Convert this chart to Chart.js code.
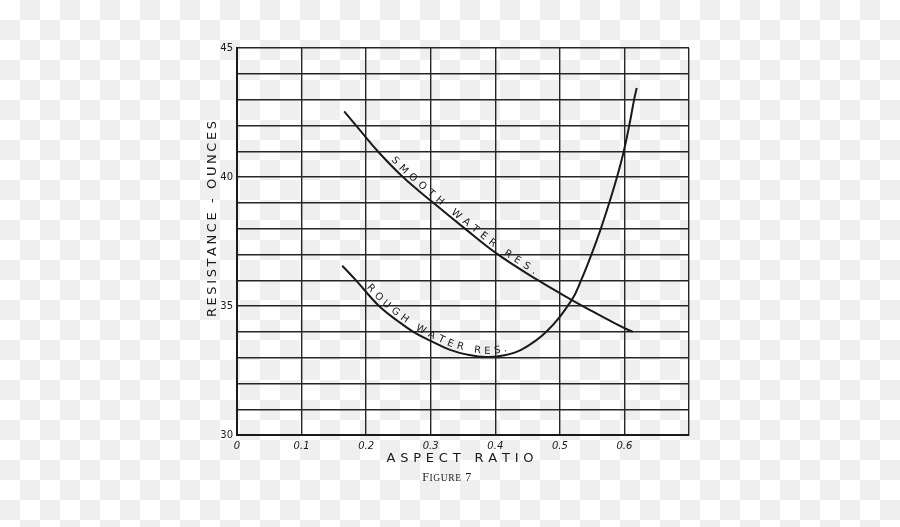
<!DOCTYPE html>
<html>
<head>
<meta charset="utf-8">
<script src="https://cdn.jsdelivr.net/npm/chart.js@4.4.0/dist/chart.umd.min.js"></script>
<style>
  html, body { margin: 0; padding: 0; }
  body {
    width: 900px; height: 527px; overflow: hidden;
    /* transparent-png style checkerboard behind the chart */
    background: repeating-conic-gradient(#efefef 0% 25%, #ffffff 0% 50%) 0 0 / 40px 40px;
  }
  #chart { display: block; }
</style>
</head>
<body>
<canvas id="chart" width="900" height="527"></canvas>
<script>
// values
const smoothX = [0.166, 0.19, 0.218, 0.257, 0.304, 0.353, 0.404, 0.466, 0.518, 0.55, 0.6, 0.613];
const smoothY = [42.54, 41.83, 41.0, 40.0, 39.0, 38.0, 37.0, 36.0, 35.24, 34.8, 34.14, 34.0];

const roughX = [0.163, 0.184, 0.22, 0.25, 0.273, 0.3, 0.33, 0.36, 0.385, 0.41, 0.44, 0.479, 0.518, 0.533, 0.549, 0.5635, 0.5765, 0.5885, 0.599, 0.6075, 0.615, 0.619];
const roughY = [36.56, 36.0, 35.0, 34.4, 34.0, 33.65, 33.3, 33.1, 33.02, 33.07, 33.3, 34.0, 35.22, 36.0, 37.0, 38.0, 39.0, 40.0, 41.0, 42.0, 43.0, 43.45];

const yTickLabels = ['30', '35', '40', '45'];
const xTitle = 'ASPECT RATIO';
const yTitle = 'RESISTANCE - OUNCES';
const caption = 'Figure 7';
const smoothLabel = 'SMOOTH WATER RES.';
const roughLabel = 'ROUGH WATER RES.';

const ink = '#1a1a1a';

function toPoints(xs, ys) {
  return xs.map((x, i) => ({ x: x, y: ys[i] }));
}

// draw a string with extra space between letters, centred on (x, y)
function spacedText(ctx, text, x, y, spacing) {
  const chars = [...text];
  const widths = chars.map(c => ctx.measureText(c).width);
  const total = widths.reduce((a, b) => a + b, 0) + spacing * (chars.length - 1);
  let cx = x - total / 2;
  ctx.textAlign = 'left';
  chars.forEach((c, i) => {
    ctx.fillText(c, cx, y);
    cx += widths[i] + spacing;
  });
}

// lettering that follows a dataset's line, between two x values
function textAlongLine(chart, dsIndex, text, fromX, toX, offset) {
  const ctx = chart.ctx;
  const pts = chart.getDatasetMeta(dsIndex).data.map(p => ({ x: p.x, y: p.y }));
  const cum = [0];
  for (let i = 1; i < pts.length; i++) {
    cum.push(cum[i - 1] + Math.hypot(pts[i].x - pts[i - 1].x, pts[i].y - pts[i - 1].y));
  }
  const pointAt = s => {
    let i = 1;
    while (i < pts.length - 1 && cum[i] < s) i++;
    const t = (s - cum[i - 1]) / (cum[i] - cum[i - 1]);
    return { x: pts[i - 1].x + (pts[i].x - pts[i - 1].x) * t, y: pts[i - 1].y + (pts[i].y - pts[i - 1].y) * t };
  };
  const lenAtX = px => {
    for (let i = 1; i < pts.length; i++) {
      if (pts[i].x >= px) {
        const t = (px - pts[i - 1].x) / (pts[i].x - pts[i - 1].x);
        return cum[i - 1] + (cum[i] - cum[i - 1]) * t;
      }
    }
    return cum[cum.length - 1];
  };
  const xs = chart.scales.x;
  const s0 = lenAtX(xs.getPixelForValue(fromX));
  const s1 = lenAtX(xs.getPixelForValue(toX));

  const chars = [...text];
  const widths = chars.map(c => ctx.measureText(c).width);
  const natural = widths.reduce((a, b) => a + b, 0);
  const gap = (s1 - s0 - natural) / (chars.length - 1);
  let s = s0;
  chars.forEach((c, i) => {
    const mid = s + widths[i] / 2;
    const p = pointAt(mid);
    const a = pointAt(mid - 6), b = pointAt(mid + 6);
    ctx.save();
    ctx.translate(p.x, p.y);
    ctx.rotate(Math.atan2(b.y - a.y, b.x - a.x));
    ctx.textAlign = 'center';
    ctx.textBaseline = 'alphabetic';
    ctx.fillText(c, 0, -offset);
    ctx.restore();
    s += widths[i] + gap;
  });
}

const lettering = {
  id: 'lettering',
  afterDraw(chart) {
    const ctx = chart.ctx;
    ctx.save();
    ctx.fillStyle = ink;

    // curve labels
    ctx.font = '10px "DejaVu Sans"';
    textAlongLine(chart, 0, smoothLabel, 0.235, 0.458, 3);
    textAlongLine(chart, 1, roughLabel, 0.197, 0.42, 3);

    // x axis title
    ctx.font = '13px "DejaVu Sans"';
    ctx.textBaseline = 'middle';
    spacedText(ctx, xTitle, 460, 459, 4.8);

    // y axis title, rotated
    ctx.save();
    ctx.translate(213, 219);
    ctx.rotate(-Math.PI / 2);
    spacedText(ctx, yTitle, 0, 0, 2.6);
    ctx.restore();

    // caption in small caps
    ctx.textBaseline = 'alphabetic';
    const big = '12px "Liberation Serif"', small = '9.5px "Liberation Serif"';
    const parts = [[big, caption[0]], [small, caption.slice(1, -2).toUpperCase()], [big, caption.slice(-2)]];
    let w = 0;
    parts.forEach(p => { ctx.font = p[0]; w += ctx.measureText(p[1]).width + 0.6 * (p[1].length); });
    let cx = 447 - w / 2;
    ctx.textAlign = 'left';
    parts.forEach(p => {
      ctx.font = p[0];
      for (const c of p[1]) {
        ctx.fillText(c, cx, 481);
        cx += ctx.measureText(c).width + 0.6;
      }
    });
    ctx.restore();
  }
};

const lineStyle = {
  showLine: true,
  borderColor: ink,
  borderWidth: 2,
  pointRadius: 0,
  fill: false,
  tension: 0.4
};

new Chart(document.getElementById('chart'), {
  type: 'scatter',
  data: {
    datasets: [
      Object.assign({ label: 'Smooth water res.', data: toPoints(smoothX, smoothY) }, lineStyle),
      Object.assign({ label: 'Rough water res.', data: toPoints(roughX, roughY) }, lineStyle)
    ]
  },
  options: {
    responsive: false,
    animation: false,
    devicePixelRatio: 1,
    layout: { padding: { top: 48, right: 211, left: 0, bottom: 0 } },
    plugins: { legend: { display: false }, tooltip: { enabled: false } },
    scales: {
      x: {
        type: 'linear',
        min: 0,
        max: 0.7,
        afterFit: scale => { scale.height = 92; },
        ticks: {
          stepSize: 0.1,
          padding: 5,
          color: ink,
          font: { family: 'DejaVu Sans', size: 10, style: 'italic' },
          maxRotation: 0,
          callback: v => (Math.abs(v - 0.7) < 1e-6 ? '' : (v === 0 ? '0' : (Math.round(v * 10) / 10).toFixed(1)))
        },
        grid: { color: '#262626', lineWidth: 1.4, drawTicks: false },
        border: { color: ink, width: 2 }
      },
      y: {
        min: 30,
        max: 45,
        afterFit: scale => { scale.width = 237; },
        ticks: {
          stepSize: 1,
          padding: 4,
          color: ink,
          font: { family: 'DejaVu Sans', size: 10 },
          callback: v => (yTickLabels.includes(String(v)) ? String(v) : '')
        },
        grid: { color: '#262626', lineWidth: 1.4, drawTicks: false },
        border: { color: ink, width: 2 }
      }
    }
  },
  plugins: [lettering]
});
</script>
</body>
</html>
